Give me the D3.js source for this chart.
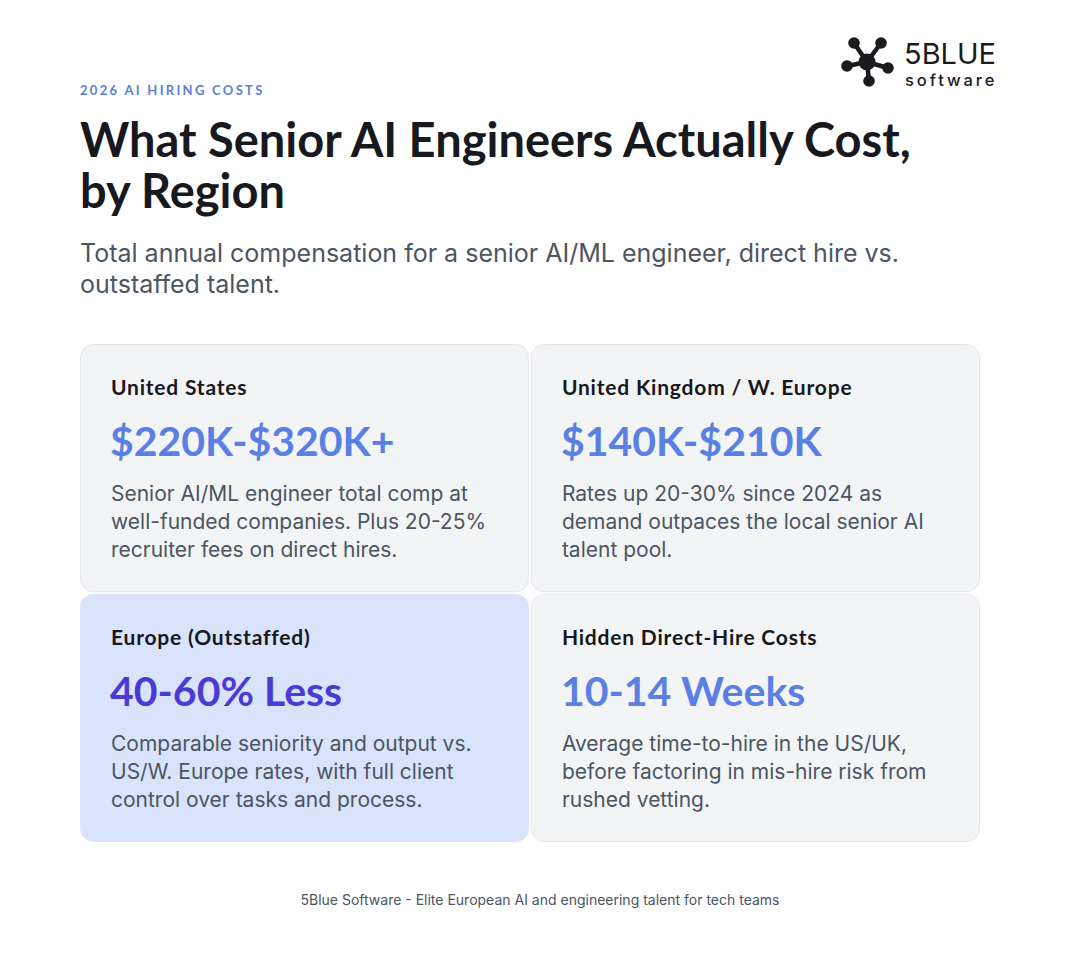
<!DOCTYPE html>
<html lang="en">
<head>
  <meta charset="UTF-8">
  <title>What Senior AI Engineers Actually Cost, by Region</title>
  <script src="https://d3js.org/d3.v7.min.js"></script>
  <style>
    body { margin: 0; background: #fff; }
    svg { display: block; }
    .head { font-family: Lato, Inter, sans-serif; }
    .body { font-family: Inter, "Noto Sans", sans-serif; }
  </style>
</head>
<body>
  <svg width="1080" height="960"></svg>
  <script>
    // Card content
    const regions = ["United States", "United Kingdom / W. Europe", "Europe (Outstaffed)", "Hidden Direct-Hire Costs"];
    const figures = ["$220K-$320K+", "$140K-$210K", "40-60% Less", "10-14 Weeks"];
    const notes = [
      ["Senior AI/ML engineer total comp at", "well-funded companies. Plus 20-25%", "recruiter fees on direct hires."],
      ["Rates up 20-30% since 2024 as", "demand outpaces the local senior AI", "talent pool."],
      ["Comparable seniority and output vs.", "US/W. Europe rates, with full client", "control over tasks and process."],
      ["Average time-to-hire in the US/UK,", "before factoring in mis-hire risk from", "rushed vetting."]
    ];
    const highlighted = ["Europe (Outstaffed)"];

    const eyebrow = "2026 AI HIRING COSTS";
    const titleLines = ["What Senior AI Engineers Actually Cost,", "by Region"];
    const subtitleLines = ["Total annual compensation for a senior AI/ML engineer, direct hire vs.", "outstaffed talent."];
    const footer = "5Blue Software - Elite European AI and engineering talent for tech teams";

    const svg = d3.select("svg");

    // Header
    svg.append("text")
      .attr("class", "head")
      .attr("x", 80).attr("y", 95)
      .attr("font-size", 13).attr("font-weight", 700)
      .attr("letter-spacing", 2.3)
      .attr("fill", "#5b80d8")
      .text(eyebrow);

    svg.append("g").selectAll("text")
      .data(titleLines)
      .join("text")
      .attr("class", "head")
      .attr("x", 80).attr("y", (d, i) => 157 + i * 51)
      .attr("font-size", 47).attr("font-weight", 700)
      .attr("fill", "#17191e")
      .text(d => d);

    svg.append("g").selectAll("text")
      .data(subtitleLines)
      .join("text")
      .attr("class", "body")
      .attr("x", 80).attr("y", (d, i) => 262 + i * 31)
      .attr("font-size", 25)
      .attr("fill", "#4b5563")
      .text(d => d);

    // Logo
    const logo = svg.append("g").attr("transform", "translate(867,62)");
    const nodes = [[-13, -19], [14, -19], [-20, 4], [21, 6], [2, 19]];
    logo.selectAll("line")
      .data(nodes)
      .join("line")
      .attr("x1", 0).attr("y1", 0)
      .attr("x2", d => d[0]).attr("y2", d => d[1])
      .attr("stroke", "#1b1b1f").attr("stroke-width", 4.5);
    logo.selectAll("circle.n")
      .data(nodes)
      .join("circle")
      .attr("class", "n")
      .attr("cx", d => d[0]).attr("cy", d => d[1])
      .attr("r", 5.8)
      .attr("fill", "#1b1b1f");
    logo.append("circle").attr("r", 8.5).attr("fill", "#1b1b1f");

    svg.append("text")
      .attr("class", "body")
      .attr("x", 904).attr("y", 64)
      .attr("font-size", 29).attr("font-weight", 400)
      .attr("fill", "#1b1b1f")
      .text("5BLUE");
    svg.append("text")
      .attr("class", "body")
      .attr("x", 905).attr("y", 86)
      .attr("font-size", 16.5).attr("font-weight", 500)
      .attr("letter-spacing", 2.9)
      .attr("fill", "#1b1b1f")
      .text("software");

    // Card grid
    const col = d3.scaleBand().domain([0, 1]).range([80, 980]).paddingInner(0.004);
    const row = d3.scaleBand().domain([0, 1]).range([344, 842]).paddingInner(0.006);

    const cards = svg.append("g").selectAll("g")
      .data(regions)
      .join("g")
      .attr("transform", (d, i) => `translate(${col(i % 2)},${row(Math.floor(i / 2))})`);

    cards.append("rect")
      .attr("x", 0.5).attr("y", 0.5)
      .attr("width", col.bandwidth() - 1)
      .attr("height", row.bandwidth() - 1)
      .attr("rx", 13)
      .attr("fill", d => highlighted.includes(d) ? "#d9e3fc" : "#f3f4f6")
      .attr("stroke", d => highlighted.includes(d) ? "#d9e3fc" : "#e5e7eb");

    cards.append("text")
      .attr("class", "head")
      .attr("x", 31).attr("y", 51)
      .attr("font-size", 21).attr("font-weight", 700)
      .attr("letter-spacing", 0.8)
      .attr("fill", "#17191e")
      .text(d => d);

    cards.append("text")
      .attr("class", "head")
      .attr("x", 30).attr("y", 112)
      .attr("font-size", 41).attr("font-weight", 700)
      .attr("fill", d => highlighted.includes(d) ? "#4a3bd5" : "#5a80e4")
      .text((d, i) => figures[i]);

    cards.each(function(d, i) {
      d3.select(this).selectAll("text.note")
        .data(notes[i])
        .join("text")
        .attr("class", "note body")
        .attr("x", 31).attr("y", (t, j) => 157 + j * 28)
        .attr("font-size", 21)
        .attr("fill", "#4b5563")
        .text(t => t);
    });

    // Footer
    svg.append("text")
      .attr("class", "body")
      .attr("x", 540).attr("y", 905)
      .attr("text-anchor", "middle")
      .attr("font-size", 14)
      .attr("fill", "#4b5563")
      .text(footer);
  </script>
</body>
</html>
